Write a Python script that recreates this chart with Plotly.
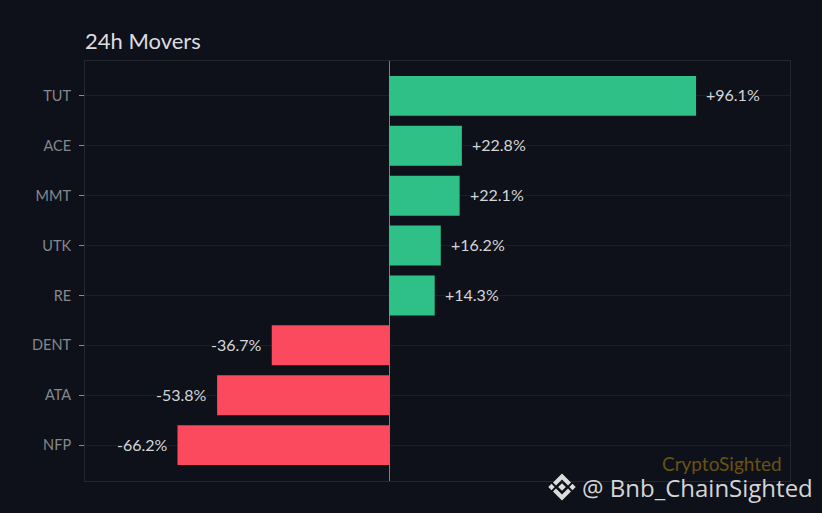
import plotly.graph_objects as go

symbols = ['TUT', 'ACE', 'MMT', 'UTK', 'RE', 'DENT', 'ATA', 'NFP']
changes = [96.1, 22.8, 22.1, 16.2, 14.3, -36.7, -53.8, -66.2]
bar_colors = ['#2fc088' if c > 0 else '#fb4a5e' for c in changes]

W, H = 822, 513
LEFT, RIGHT, TOP, BOTTOM = 85, 790, 61, 481
FONT = 'Lato'


# page pixels to paper coordinates (paper is the plot area, not the page)
def px(x):
    return (x - LEFT) / (RIGHT - LEFT)


def py(y):
    return (BOTTOM - y) / (BOTTOM - TOP)


# binance-style logo for the watermark, in page pixels
def diamond(cx, cy, r):
    return (f'M{px(cx)},{py(cy - r)} L{px(cx + r)},{py(cy)} '
            f'L{px(cx)},{py(cy + r)} L{px(cx - r)},{py(cy)} Z')


def chevron(cx, cy, r, t, up):
    s = -1 if up else 1
    return (f'M{px(cx - r)},{py(cy)} L{px(cx)},{py(cy + s * r)} L{px(cx + r)},{py(cy)} '
            f'L{px(cx + r - t)},{py(cy - s * t)} L{px(cx)},{py(cy + s * (r - 2 * t))} '
            f'L{px(cx - r + t)},{py(cy - s * t)} Z')


logo = [diamond(562, 487, 3.8), diamond(551.5, 487, 3.2), diamond(572.5, 487, 3.2),
        chevron(562, 482.5, 9, 3, True), chevron(562, 491.5, 9, 3, False)]

fig = go.Figure(go.Bar(
    x=changes,
    y=symbols,
    orientation='h',
    width=0.8,
    marker=dict(color=bar_colors, line=dict(width=0)),
))

for sym, c in zip(symbols, changes):
    fig.add_annotation(
        x=c, y=sym,
        text=f'{c:+.1f}%',
        showarrow=False,
        xanchor='left' if c > 0 else 'right',
        xshift=8 if c > 0 else -8,
        yshift=1,
        font=dict(family=FONT, size=16, color='#d4d6d9'),
    )

fig.add_annotation(xref='paper', yref='paper', x=px(784), y=py(463), text='CryptoSighted',
                   showarrow=False, xanchor='right', yanchor='middle',
                   font=dict(family=FONT, size=19, color='#6a5213'))
fig.add_annotation(xref='paper', yref='paper', x=px(815), y=py(487),
                   text='@ Bnb_ChainSighted', showarrow=False, xanchor='right', yanchor='middle',
                   font=dict(family='Open Sans', size=24, color='#d4d5d7'))

fig.update_layout(
    width=W,
    height=H,
    margin=dict(l=LEFT, r=W - RIGHT, t=TOP, b=H - BOTTOM),
    paper_bgcolor='#0e1119',
    plot_bgcolor='#0e1119',
    showlegend=False,
    title=dict(text='24h Movers', x=LEFT / W, xanchor='left', y=1 - 41 / H, yanchor='middle',
               font=dict(family=FONT, size=22, color='#dcdde0')),
    xaxis=dict(
        range=[-95.15, 125.5],
        showticklabels=False,
        ticks='',
        showgrid=False,
        zeroline=True,
        zerolinecolor='#7b7e84',
        zerolinewidth=1,
        showline=True,
        linecolor='#23272f',
        linewidth=1,
        mirror=True,
    ),
    yaxis=dict(
        categoryorder='array',
        categoryarray=symbols,
        range=[7.72, -0.7],
        ticks='outside',
        ticklen=5,
        tickcolor='#8a8d93',
        tickwidth=1,
        ticklabelstandoff=5,
        tickfont=dict(family=FONT, size=14.5, color='#85888e'),
        showgrid=True,
        gridcolor='#1a1e26',
        gridwidth=1,
        zeroline=False,
        showline=True,
        linecolor='#23272f',
        linewidth=1,
        mirror=True,
    ),
    shapes=[dict(type='path', xref='paper', yref='paper', path=p, fillcolor='#dcdcdc',
                 line=dict(width=0), layer='above') for p in logo],
)

# page has a default body margin, drop it so the figure sits at 0,0
fig.write_html("out.html", config=dict(displayModeBar=False),
               post_script="document.body.style.margin='0';")
